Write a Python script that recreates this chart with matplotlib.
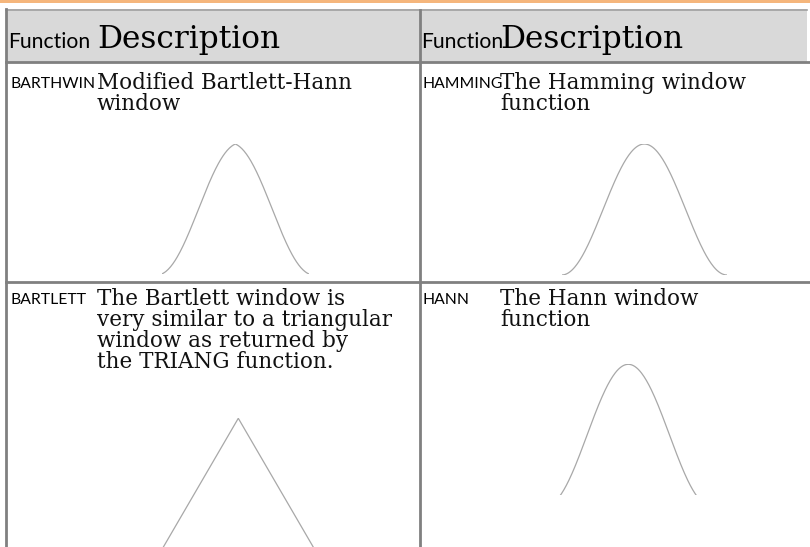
import matplotlib
matplotlib.use('agg')
import matplotlib.pyplot as plt
import numpy as np

# ---------------------------- table content ----------------------------
header = ['Function', 'Description']
left_funcs = ['BARTHWIN', 'BARTLETT']
left_desc = [['Modified Bartlett-Hann', 'window'],
             ['The Bartlett window is', 'very similar to a triangular',
              'window as returned by', 'the TRIANG function.']]
right_funcs = ['HAMMING', 'HANN']
right_desc = [['The Hamming window', 'function'],
              ['The Hann window', 'function']]

# window shapes drawn in each cell (numpy windows)
n_pts = 201
def barthann(n):
    k = np.arange(n) / (n - 1) - 0.5
    return 0.62 - 0.48 * np.abs(k) + 0.38 * np.cos(2 * np.pi * k)

windows = {'BARTHWIN': barthann(n_pts),
           'BARTLETT': np.bartlett(n_pts),
           'HAMMING': np.hamming(n_pts),
           'HANN': np.hanning(n_pts)}

# ---------------------------- layout (pixels) ----------------------------
W, H = 810, 547
line_col = '#808080'
sans = 'Lato'
serif = 'DejaVu Serif'

fig = plt.figure(figsize=(W / 100, H / 100), dpi=100)
ax = fig.add_axes([0, 0, 1, 1])
ax.set_xlim(0, W)
ax.set_ylim(H, 0)
ax.axis('off')

# orange strip + header band
ax.fill_between([0, W], 0, 2.5, color='#f5b67c', lw=0)
ax.fill_between([6, 807], 9, 62, color='#d9d9d9', lw=0)
ax.plot([6, 807], [9.5, 9.5], color='#a0a0a0', lw=1.2)
ax.plot([6, W], [62, 62], color=line_col, lw=2)
ax.plot([6, W], [282, 282], color=line_col, lw=2)
ax.plot([6, 6], [9, H], color=line_col, lw=2)
ax.plot([419.5, 419.5], [10, H], color=line_col, lw=2)

# column x positions: (function, description)
cols = [(9, 97), (422, 500)]

for fx, dx in cols:
    ax.text(fx - 1, 48, header[0], fontsize=15.2, family=sans, va='baseline')
    ax.text(dx, 48, header[1], fontsize=22.5, family=serif, va='baseline')

row_base = [88, 304]
line_gap = 21
for (funcs, descs), (fx, dx) in zip(((left_funcs, left_desc), (right_funcs, right_desc)), cols):
    for r, (f, d) in enumerate(zip(funcs, descs)):
        ax.text(fx + 1, row_base[r], f, fontsize=11.3, family=sans, va='baseline')
        for i, s in enumerate(d):
            ax.text(dx, row_base[r] + 1 + i * line_gap, s, fontsize=15.5,
                    family=serif, va='baseline', color='#111111')

# curve boxes: x0, x1, y_top, y_bottom, ylim bottom
boxes = {'BARTHWIN': (161.7, 309, 144, 274, None),
         'HAMMING': (561.7, 727, 144, 275, 'min'),
         'BARTLETT': (155.8, 320.8, 418.3, 560, None),
         'HANN': (545.8, 710.8, 364.3, 495, 0.077)}

for name, (x0, x1, yt, yb, lo) in boxes.items():
    w = windows[name]
    cax = fig.add_axes([x0 / W, 1 - yb / H, (x1 - x0) / W, (yb - yt) / H])
    cax.plot(np.arange(n_pts), w, color='#a8a8a8', lw=0.9)
    if lo == 'min':
        lo = w.min()
    elif lo is None:
        lo = 0
    cax.set_xlim(0, n_pts - 1)
    cax.set_ylim(lo, 1)
    cax.axis('off')

fig.savefig('out.png', dpi=100)
